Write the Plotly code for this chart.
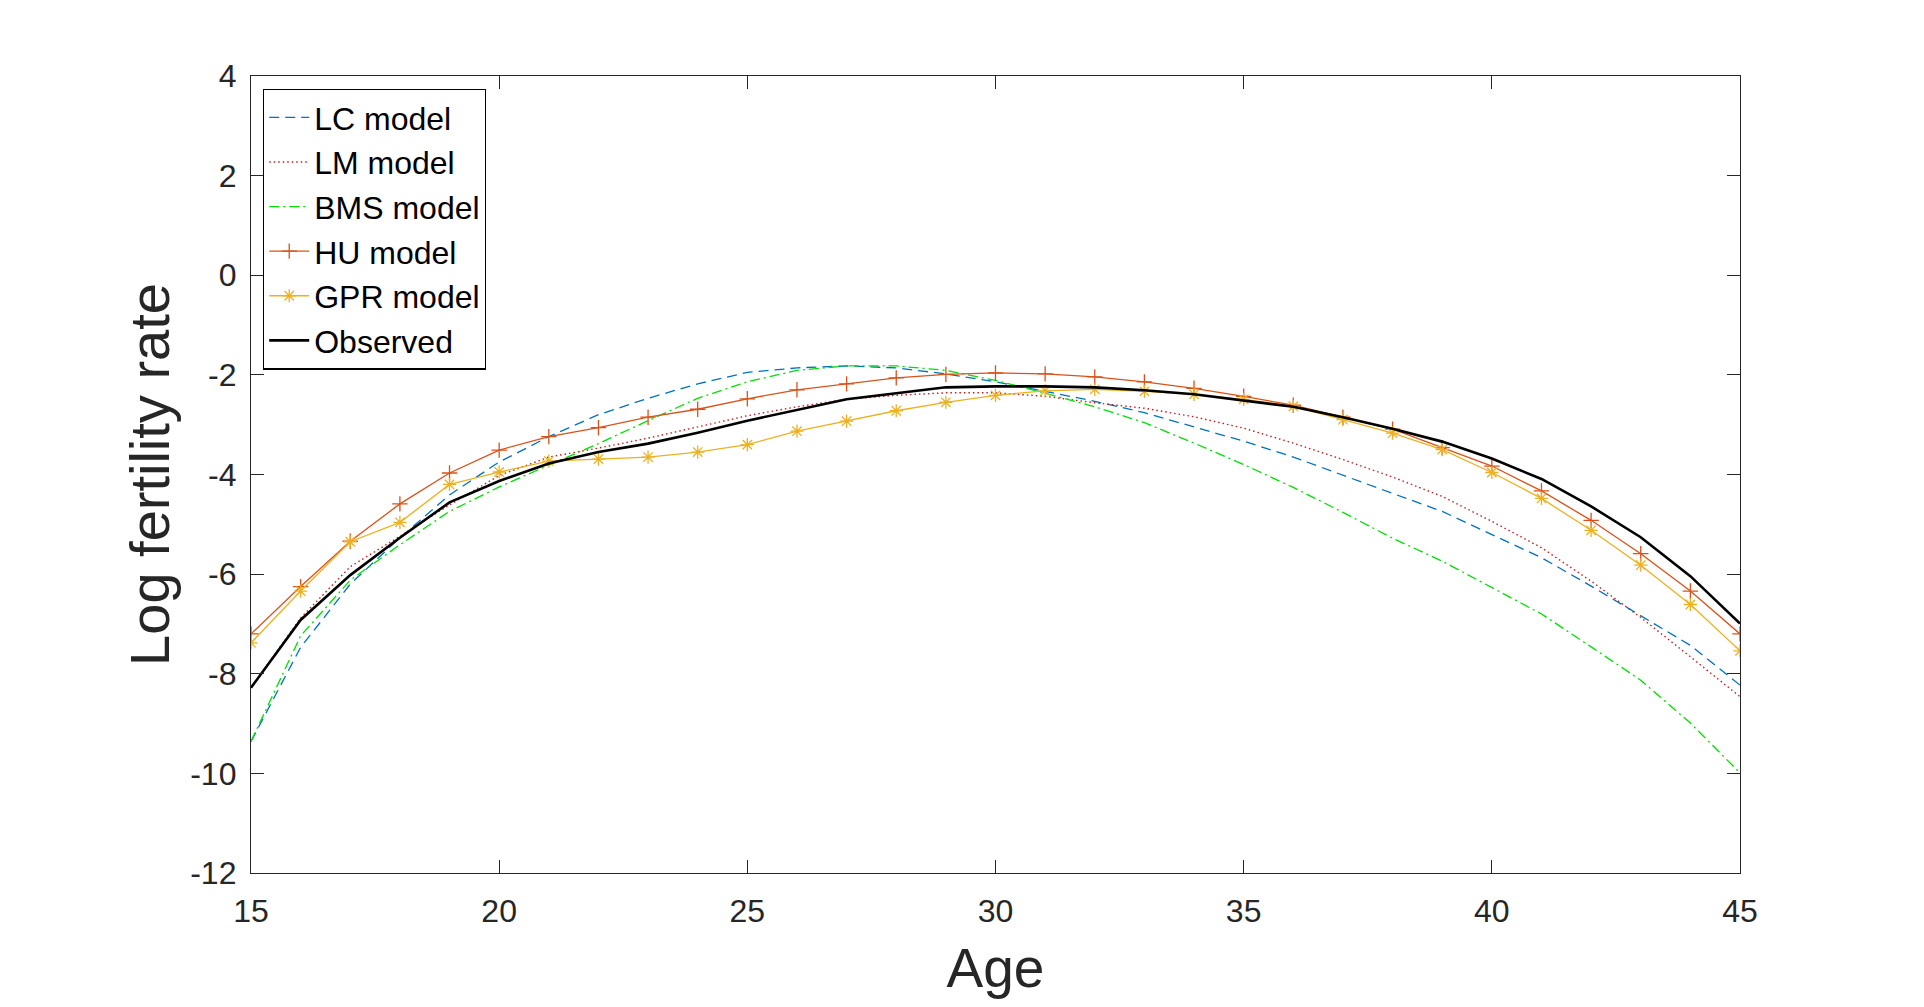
import plotly.graph_objects as go

age = list(range(15, 46))

lc_model = [
    -9.36, -7.47, -6.20, -5.27, -4.41, -3.75, -3.24, -2.80, -2.47, -2.18, -1.95,
    -1.86, -1.82, -1.86, -1.98, -2.14, -2.33, -2.53, -2.76, -3.04, -3.33,
    -3.65, -4.02, -4.38, -4.74, -5.21, -5.67, -6.24, -6.83, -7.43, -8.23,
]
lm_model = [
    -8.28, -6.88, -5.85, -5.24, -4.61, -4.02, -3.65, -3.47, -3.27, -3.04, -2.82,
    -2.64, -2.49, -2.41, -2.36, -2.36, -2.43, -2.56, -2.67, -2.84, -3.07,
    -3.37, -3.70, -4.05, -4.44, -4.94, -5.47, -6.14, -6.87, -7.66, -8.46,
]
bms_model = [
    -9.36, -7.24, -6.12, -5.41, -4.74, -4.25, -3.81, -3.38, -2.92, -2.47, -2.14,
    -1.91, -1.82, -1.82, -1.91, -2.11, -2.37, -2.64, -2.96, -3.37, -3.80,
    -4.26, -4.76, -5.28, -5.74, -6.27, -6.80, -7.46, -8.13, -8.99, -9.99,
]
hu_model = [
    -7.20, -6.25, -5.34, -4.59, -3.97, -3.51, -3.24, -3.06, -2.85, -2.69, -2.48,
    -2.30, -2.18, -2.06, -1.99, -1.96, -1.98, -2.04, -2.14, -2.27, -2.43,
    -2.61, -2.85, -3.09, -3.46, -3.83, -4.33, -4.92, -5.59, -6.34, -7.20,
]
gpr_model = [
    -7.38, -6.34, -5.35, -4.96, -4.20, -3.95, -3.73, -3.69, -3.65, -3.55, -3.40,
    -3.13, -2.93, -2.72, -2.55, -2.41, -2.32, -2.29, -2.33, -2.39, -2.49,
    -2.63, -2.90, -3.17, -3.50, -3.96, -4.48, -5.12, -5.82, -6.61, -7.54,
]
observed = [
    -8.28, -6.92, -6.02, -5.27, -4.56, -4.13, -3.78, -3.55, -3.38, -3.16, -2.92,
    -2.70, -2.49, -2.37, -2.25, -2.23, -2.23, -2.25, -2.31, -2.39, -2.51,
    -2.64, -2.85, -3.08, -3.34, -3.68, -4.09, -4.64, -5.26, -6.04, -6.99,
]

x_ticks = [15, 20, 25, 30, 35, 40, 45]
y_ticks = [-12, -10, -8, -6, -4, -2, 0, 2, 4]
y_tick_labels = ["-12", "-10", "-8", "-6", "-4", "-2", "0", "2", "4"]

FONT = "Liberation Sans, Arial, sans-serif"
INK = "#262626"

# name, values, colour, dash, marker symbol, line width
series = [
    ("LC model", lc_model, "#0072BD", "10px,6px", None, 1.3),
    ("LM model", lm_model, "#C01E1E", "1.5px,3px", None, 1.4),
    ("BMS model", bms_model, "#00E000", "10px,4px,2px,4px", None, 1.3),
    ("HU model", hu_model, "#D95319", "solid", "cross-thin-open", 1.3),
    ("GPR model", gpr_model, "#EDB120", "solid", "asterisk-open", 1.3),
    ("Observed", observed, "#000000", "solid", None, 2.6),
]

fig = go.Figure()
for name, values, colour, dash, symbol, width in series:
    marker = None
    mode = "lines"
    if symbol:
        mode = "lines+markers"
        marker = dict(
            symbol=symbol, size=11, color=colour, line=dict(color=colour, width=1.3)
        )
    fig.add_trace(
        go.Scatter(
            x=age,
            y=values,
            name=name,
            mode=mode,
            line=dict(color=colour, dash=dash, width=width),
            marker=marker,
        )
    )

axis_style = dict(
    showgrid=False,
    zeroline=False,
    showline=True,
    linecolor=INK,
    linewidth=1.3,
    mirror="ticks",
    ticks="inside",
    ticklen=13,
    tickwidth=1.3,
    tickcolor=INK,
    tickfont=dict(family=FONT, size=32, color=INK),
)

# the page adds an 8px body margin, so the figure is a bit smaller than the window
fig.update_layout(
    width=1908,
    height=991,
    paper_bgcolor="white",
    plot_bgcolor="white",
    margin=dict(l=243, r=176, t=68, b=118),
    font=dict(family=FONT, color=INK),
    xaxis=dict(
        axis_style,
        range=[15, 45],
        tickvals=x_ticks,
        ticklabelstandoff=9,
        title=dict(text="Age", font=dict(family=FONT, size=55, color=INK), standoff=20),
    ),
    yaxis=dict(
        axis_style,
        range=[-12, 4],
        tickvals=y_ticks,
        ticktext=y_tick_labels,
        ticklabelstandoff=7,
        title=dict(
            text="Log fertility rate",
            font=dict(family=FONT, size=56, color=INK),
            standoff=2,
        ),
    ),
    legend=dict(
        x=0.008,
        y=0.984,
        xanchor="left",
        yanchor="top",
        bgcolor="white",
        bordercolor="#000000",
        borderwidth=1.3,
        font=dict(family=FONT, size=32, color="#000000"),
        itemwidth=40,
        tracegroupgap=0,
    ),
    showlegend=True,
)

fig.write_html("out.html")
